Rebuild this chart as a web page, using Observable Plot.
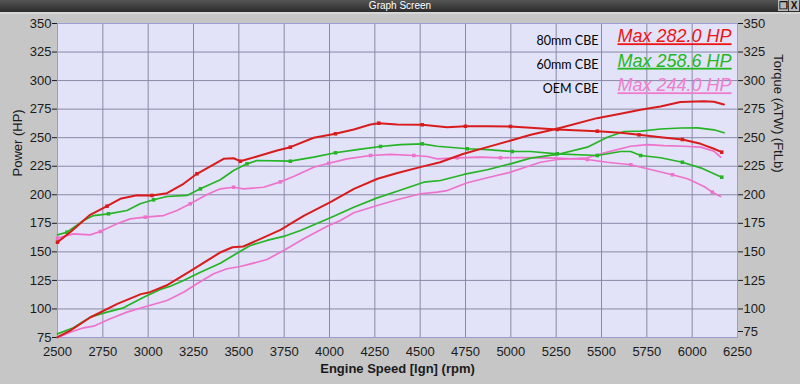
<!DOCTYPE html>
<html>
<head>
<meta charset="utf-8">
<script src="https://cdn.jsdelivr.net/npm/d3@7"></script>
<script src="https://cdn.jsdelivr.net/npm/@observablehq/plot@0.6"></script>
<style>
  html, body { margin: 0; padding: 0; }
  body { width: 800px; height: 384px; overflow: hidden; background: #c6c6c6; font-family: "Liberation Sans", Arial, sans-serif; }
  #titlebar { position: relative; height: 12px; background: linear-gradient(#555, #2c2c2c); color: #fff; font-size: 10px; line-height: 12px; text-align: center; border-bottom: 2px solid #d6d6d6; }
  #titlebar .icons { position: absolute; right: 1px; top: 0; height: 12px; display: flex; gap: 1px; }
  #titlebar .icons span { display: block; width: 10px; height: 11px; background: #b8b8b8; color: #111; font-size: 10px; line-height: 11px; font-weight: bold; text-align: center; }
  #chart svg { display: block; }
</style>
</head>
<body>
<div id="titlebar">Graph Screen<div class="icons"><span>&#x2750;</span><span>X</span></div></div>
<div id="chart"></div>
<script>
// ---------- data ----------
const series = ["80mm CBE", "60mm CBE", "OEM CBE"];
const maxHP = [282.0, 258.6, 244.0];
const colors = ["#d81c1c", "#24b424", "#ee72cc"];
const legendColors = ["#ee1414", "#22b822", "#f07ccf"];

const xTicks = [2500, 2750, 3000, 3250, 3500, 3750, 4000, 4250, 4500, 4750, 5000, 5250, 5500, 5750, 6000, 6250];
const yTicks = [75, 100, 125, 150, 175, 200, 225, 250, 275, 300, 325, 350];

// Power (HP) curves: [rpm, hp]
const power80 = [[2500,75.3],[2570,81],[2680,92.5],[2830,104.5],[2960,113],[3010,114.7],[3100,120.5],[3230,133],[3325,142.4],[3400,149.7],[3465,154],[3525,154.7],[3620,161.4],[3730,169.3],[3800,176],[3860,181.8],[4005,193.5],[4135,205.2],[4265,214],[4375,219],[4500,224.2],[4610,228.5],[4740,235.9],[4870,241.7],[5000,247.5],[5110,252.5],[5255,257.8],[5475,267.1],[5605,270.9],[5715,274.4],[5825,277.3],[5935,281.2],[6065,282.0],[6120,281.5],[6175,279]];
const power60 = [[2500,78.2],[2588,83.5],[2680,92.8],[2773,97.2],[2864,101],[2975,110.3],[3067,117],[3122,119.9],[3195,124.9],[3288,132.2],[3398,140.1],[3490,148.8],[3563,155.6],[3655,160],[3747,163.5],[3840,168.7],[4005,179.8],[4134,189.1],[4263,197.3],[4373,203.1],[4520,211],[4612,212.5],[4741,217.8],[4870,221.9],[4998,227.1],[5109,232.1],[5256,235.3],[5422,241.7],[5532,250.4],[5624,255.4],[5716,255.7],[5826,257.6],[5937,258.5],[6030,258.6],[6120,256.9],[6176,254.3]];
const powerOEM = [[2500,74.7],[2570,79.6],[2644,83.5],[2699,84.9],[2791,91.4],[2883,97.2],[2993,102.4],[3104,107.4],[3195,114.7],[3269,122],[3361,130.8],[3435,135.2],[3508,137.2],[3600,140.9],[3655,143.3],[3747,151.2],[3858,161.4],[3990,172.6],[4060,177.5],[4134,184.2],[4263,190.6],[4373,195.6],[4502,200.9],[4594,202.3],[4649,203.7],[4760,210.5],[4870,214.9],[4998,219.8],[5109,225.6],[5164,228.5],[5256,230.9],[5422,232.4],[5532,237.3],[5661,242.5],[5753,244],[5845,243.1],[5955,242.5],[6047,241.7],[6120,238.2],[6157,232.9]];

// Torque (ATW) (FtLb) curves: [rpm, ftlb]
const torque80 = [[2500,158.5],[2570,167.2],[2680,182.4],[2773,190],[2846,196.5],[2938,199.6],[3021,199.4],[3104,201.4],[3195,209.6],[3269,218.4],[3343,224.8],[3416,231.5],[3471,232],[3508,229.4],[3600,233.5],[3711,238.8],[3784,241.7],[3913,249.9],[4033,253.4],[4134,257.2],[4226,261.5],[4272,262.7],[4373,261.5],[4511,261.3],[4649,259.2],[4750,260],[4870,260],[4998,259.8],[5109,258.7],[5256,257.2],[5477,255.7],[5606,254.3],[5707,252.5],[5826,250.4],[5946,248.4],[6047,244.6],[6120,240.3],[6163,237.3]];
const torque60 = [[2500,164.9],[2552,167.2],[2644,177.5],[2699,181.8],[2781,183.3],[2883,186.2],[2956,192.1],[3030,195.6],[3104,198.5],[3214,199.4],[3288,205.2],[3398,213.1],[3471,221.3],[3545,227.1],[3600,230],[3784,229.4],[3913,232.9],[4033,236.8],[4152,239.6],[4281,242.3],[4392,244],[4511,244.6],[4594,242.5],[4760,240.3],[4870,239.6],[5008,237.9],[5109,237.9],[5256,235.9],[5477,234.4],[5606,237.9],[5661,237.9],[5716,234.4],[5826,232.4],[5946,228.5],[6047,223.6],[6163,215.4]];
const torqueOEM = [[2500,162],[2588,165.8],[2680,164.9],[2736,167.8],[2828,174.6],[2901,178.9],[2984,180.4],[3085,181.8],[3159,186.2],[3232,192.1],[3325,200.2],[3398,205.2],[3471,206.6],[3527,205.2],[3637,206.6],[3729,211.3],[3802,216],[3913,224.1],[3996,227.6],[4097,231.5],[4226,234.4],[4336,235.3],[4465,234.4],[4539,233.5],[4594,231.5],[4704,232.4],[4833,232.9],[4943,232.4],[5054,232.5],[5256,232.1],[5422,230.9],[5532,228.5],[5661,226.3],[5753,222.8],[5891,217.5],[5974,214],[6066,207.2],[6111,202.3],[6157,198.5]];

// rpm positions of the small square markers on torque curves
const markers80 = [2500,2773,3021,3269,3508,3784,4033,4272,4511,4750,4998,5256,5477,5707,5946,6163];
const markers60 = [2552,2781,3030,3288,3545,3784,4033,4281,4511,4760,5008,5256,5477,5716,5946,6163];
const markersOEM = [2500,2736,2984,3232,3471,3729,3996,4226,4465,4704,4943,5422,5661,5891,6111];

// ---------- build ----------
const powers = [power80, power60, powerOEM];
const torques = [torque80, torque60, torqueOEM];
const markerSets = [markers80, markers60, markersOEM];
const toRows = (arr) => arr.map(([rpm, v]) => ({rpm, v}));

const lineMarks = [];
for (const i of [2, 1, 0]) {
  const w = i === 0 ? 2 : 1.7;
  lineMarks.push(Plot.line(toRows(powers[i]), {x: "rpm", y: "v", stroke: colors[i], strokeWidth: w}));
  lineMarks.push(Plot.line(toRows(torques[i]), {x: "rpm", y: "v", stroke: colors[i], strokeWidth: w}));
  const ms = new Set(markerSets[i]);
  lineMarks.push(Plot.dot(toRows(torques[i]).filter(d => ms.has(d.rpm)), {x: "rpm", y: "v", symbol: "square", r: 2, fill: colors[i], stroke: null}));
}

const legendMarks = [];
series.forEach((name, i) => {
  legendMarks.push(Plot.text([name], {frameAnchor: "top-right", dx: -139, dy: 17 + i * 24, text: d => d, textAnchor: "end", lineAnchor: "middle", fontSize: 12.5, fill: "#000", fontFamily: "Lato, 'Open Sans', sans-serif"}));
  legendMarks.push(Plot.text([maxHP[i]], {frameAnchor: "top-right", dx: -120, dy: 13 + i * 24.5, text: d => `Max ${d.toFixed(1)} HP`, textAnchor: "start", lineAnchor: "middle", fontSize: 18, fontStyle: "italic", fill: legendColors[i]}));
});

const fmt = d3.format("d");

const chart = Plot.plot({
  width: 800,
  height: 370,
  marginLeft: 57,
  marginRight: 63,
  marginTop: 9,
  marginBottom: 47,
  style: {fontFamily: "'Liberation Sans', Arial, sans-serif", fontSize: "13px", background: "transparent", color: "#1a1a1a"},
  x: {domain: [2500, 6250]},
  y: {domain: [75, 350]},
  marks: [
    Plot.frame({fill: "#e2e2f8", stroke: null}),
    Plot.gridX(xTicks, {stroke: "#8a8aa8", strokeOpacity: 1, strokeWidth: 1}),
    Plot.gridY(yTicks, {stroke: "#8a8aa8", strokeOpacity: 1, strokeWidth: 1}),
    Plot.frame({stroke: "#9c9cd0", strokeWidth: 1}),
    Plot.axisX(xTicks, {tickSize: 0, tickPadding: 9, label: null, fontSize: 13, tickFormat: fmt}),
    Plot.axisY(yTicks, {anchor: "left", tickSize: 5, tickPadding: 1, label: null, fontSize: 13, tickFormat: fmt}),
    Plot.axisY(yTicks.filter(t => t !== 75), {anchor: "right", tickSize: 5, tickPadding: 1, label: null, fontSize: 13, tickFormat: fmt}),
    Plot.axisY([75], {anchor: "right", tickSize: 5, tickPadding: 1, label: null, fontSize: 13, dy: -6, tickFormat: fmt}),
    Plot.text(["Power (HP)"], {frameAnchor: "left", dx: -40, dy: -4, rotate: -90, text: d => d, fontSize: 13, fill: "#1a1a1a"}),
    Plot.text(["Torque (ATW) (FtLb)"], {frameAnchor: "right", dx: 41, dy: -8, rotate: 90, text: d => d, fontSize: 13, fill: "#1a1a1a"}),
    Plot.text(["Engine Speed [lgn] (rpm)"], {frameAnchor: "bottom", dx: 0, dy: 35, text: d => d, fontSize: 13, fontWeight: "bold", fill: "#1a1a1a"}),
    ...lineMarks,
    ...legendMarks
  ]
});

d3.select(chart).selectAll("text")
  .filter(function() { return this.textContent.startsWith("Max "); })
  .style("text-decoration", "underline");

document.getElementById("chart").appendChild(chart);
</script>
</body>
</html>
